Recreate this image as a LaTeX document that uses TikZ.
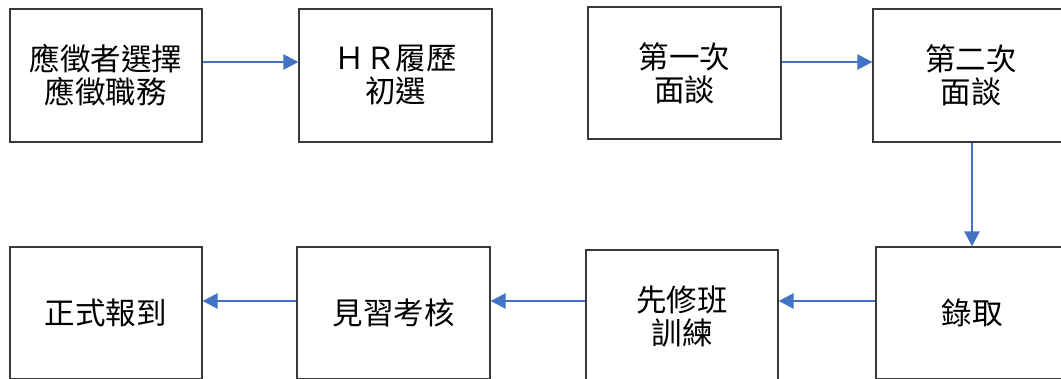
\documentclass[tikz,border=0pt]{standalone}
\usepackage{fontspec}
\newfontfamily\cjk{Noto Sans CJK TC}
\usetikzlibrary{arrows.meta}
\definecolor{arrowblue}{HTML}{4472C4}
\definecolor{boxgray}{HTML}{3A3A3A}
\tikzset{
  stepbox/.style={draw=boxgray, line width=1.3pt, rectangle, minimum height=132pt,
    align=center, inner sep=0pt, font=\cjk\fontsize{30.5pt}{33pt}\selectfont},
  flow/.style={draw=arrowblue, line width=2.6pt, -{Triangle[length=15pt,width=15pt]}}
}
\begin{document}
\begin{tikzpicture}[x=1pt,y=-1pt]
\useasboundingbox (0,0) rectangle (1061,378);
\clip (0,0) rectangle (1061,378);
\node[stepbox, minimum width=192pt, minimum height=133pt] (b1) at (106,75.5) {應徵者選擇\\應徵職務};
\node[stepbox, minimum width=193pt, minimum height=133pt] (b2) at (395.5,75.5) {ＨＲ履歷\\初選};
\node[stepbox, minimum width=193pt] (b3) at (684.5,73) {第一次\\面談};
\node[stepbox, minimum width=196pt, minimum height=133pt] (b4) at (971,75.5) {第二次\\面談};
\node[stepbox, minimum width=192pt] (b8) at (972,313) {錄取};
\node[stepbox, minimum width=192pt] (b7) at (682,316) {先修班\\訓練};
\node[stepbox, minimum width=193pt] (b6) at (393.5,313) {見習考核};
\node[stepbox, minimum width=192pt] (b5) at (106,313) {正式報到};
\draw[flow] (b1.east |- 0,62) -- (b2.west |- 0,62);
\draw[flow] (b3.east |- 0,62) -- (b4.west |- 0,62);
\draw[flow] (b4.south -| 972,0) -- (b8.north -| 972,0);
\draw[flow] (b8.west |- 0,301) -- (b7.east |- 0,301);
\draw[flow] (b7.west |- 0,301) -- (b6.east |- 0,301);
\draw[flow] (b6.west |- 0,301) -- (b5.east |- 0,301);
\end{tikzpicture}
\end{document}
